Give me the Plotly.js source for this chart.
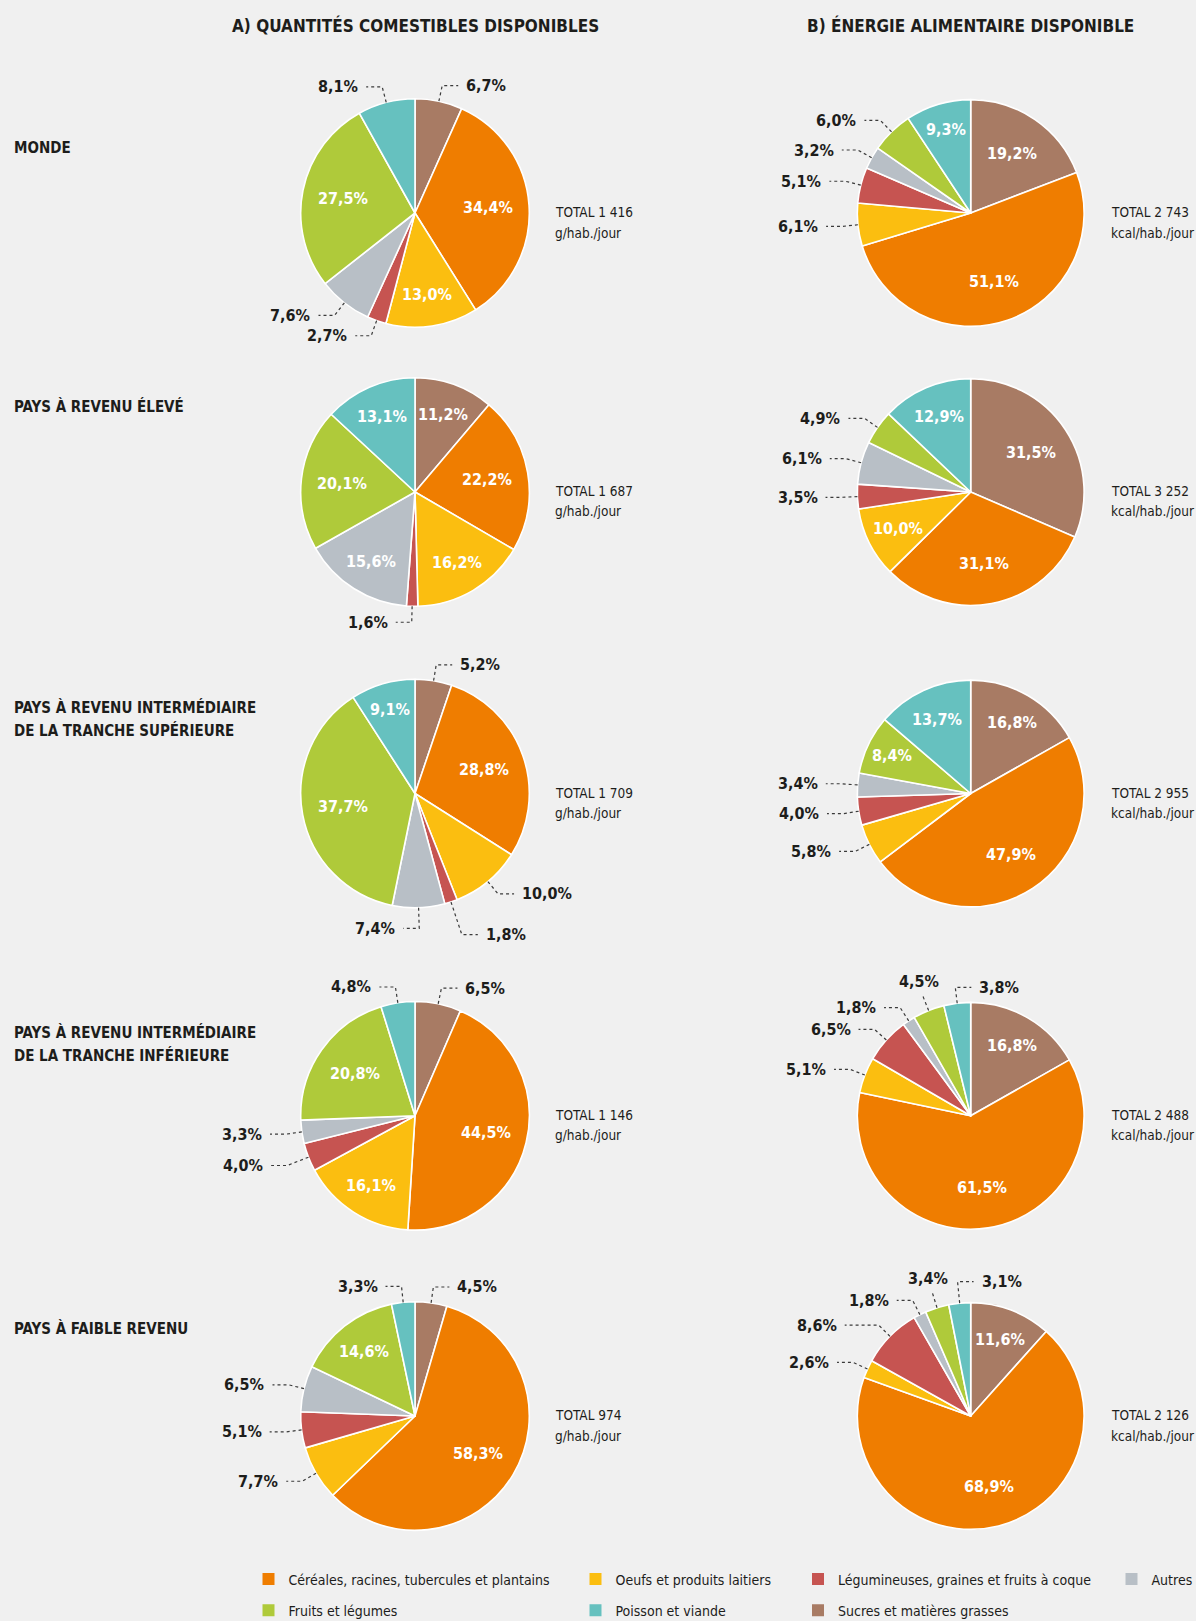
<!DOCTYPE html>
<html>
<head>
<meta charset="utf-8">
<script src="https://cdn.plot.ly/plotly-3.0.1.min.js"></script>
<style>
html,body{margin:0;padding:0;background:#f0f0f0;overflow:hidden;}
#chart{width:1196px;height:1621px;}
</style>
</head>
<body>
<div id="chart"></div>
<script>
// ---------------- DATA ----------------
const categories = [
  'Sucres et matières grasses',
  'Céréales, racines, tubercules et plantains',
  'Oeufs et produits laitiers',
  'Légumineuses, graines et fruits à coque',
  'Autres',
  'Fruits et légumes',
  'Poisson et viande'
];
const categoryColors = ['#a87b64', '#ef7d00', '#fbbe10', '#c65451', '#b8bfc6', '#afca3a', '#66c1bf'];

const columnTitles = ['A) QUANTITÉS COMESTIBLES DISPONIBLES', 'B) ÉNERGIE ALIMENTAIRE DISPONIBLE'];
const rowLabels = [
  'MONDE',
  'PAYS À REVENU ÉLEVÉ',
  'PAYS À REVENU INTERMÉDIAIRE<br>DE LA TRANCHE SUPÉRIEURE',
  'PAYS À REVENU INTERMÉDIAIRE<br>DE LA TRANCHE INFÉRIEURE',
  'PAYS À FAIBLE REVENU'
];
const units = ['g/hab./jour', 'kcal/hab./jour'];

// shares (%) in slice order (clockwise from 12 o'clock), same order as categories
const mondeQuantites   = [6.7, 34.4, 13.0, 2.7, 7.6, 27.5, 8.1];
const mondeEnergie     = [19.2, 51.1, 6.1, 5.1, 3.2, 6.0, 9.3];
const eleveQuantites   = [11.2, 22.2, 16.2, 1.6, 15.6, 20.1, 13.1];
const eleveEnergie     = [31.5, 31.1, 10.0, 3.5, 6.1, 4.9, 12.9];
const supQuantites     = [5.2, 28.8, 10.0, 1.8, 7.4, 37.7, 9.1];
const supEnergie       = [16.8, 47.9, 5.8, 4.0, 3.4, 8.4, 13.7];
const infQuantites     = [6.5, 44.5, 16.1, 4.0, 3.3, 20.8, 4.8];
const infEnergie       = [16.8, 61.5, 5.1, 6.5, 1.8, 4.5, 3.8];
const faibleQuantites  = [4.5, 58.3, 7.7, 5.1, 6.5, 14.6, 3.3];
const faibleEnergie    = [11.6, 68.9, 2.6, 8.6, 1.8, 3.4, 3.1];

const totalsQuantites = ['1 416', '1 687', '1 709', '1 146', '974'];
const totalsEnergie   = ['2 743', '3 252', '2 955', '2 488', '2 126'];

// ---------------- LAYOUT SETTINGS ----------------
const W = 1196, H = 1621;
const colCX = [415, 970.7];
const colR = [114.3, 113.4];
const rowCY = [213, 492, 793.5, 1115.8, 1416];
const rowLabelCY = [148, 407, 719, 1043.5, 1328];
const rowLineGap = 23;
const legendColumns = [[1, 5], [2, 6], [3, 0], [4]];
const legendLeft = [248.5, 575.5, 798, 1111.5];
const legendTop = 1563.5;
// which slice labels sit inside the pie
const insideIdx = [
  [[1, 2, 5], [0, 1, 6]],
  [[0, 1, 2, 4, 5, 6], [0, 1, 2, 6]],
  [[1, 5, 6], [0, 1, 5, 6]],
  [[1, 2, 5], [0, 1]],
  [[1, 5], [0, 1]]
];
const leaderOverrides = {
  '2-0-3': {rf: 1.3},
  '2-0-4': {side: 'L', rf: 1.18},
  '3-0-3': {rf: 1.2},
  '3-1-5': {side: 'U'},
  '3-1-6': {side: 'R'},
  '4-1-5': {side: 'U'},
  '4-1-6': {side: 'R', rf: 1.19},
  '4-1-3': {h: 34}
};

const FONT = "'Liberation Sans Narrow', 'DejaVu Sans Condensed', 'Arial Narrow', sans-serif";
const INK = '#1d1d1b';
const BG = '#f0f0f0';
const PCT_SIZE = 16;

// ---------------- BUILD ----------------
const quantites = [mondeQuantites, eleveQuantites, supQuantites, infQuantites, faibleQuantites];
const energie = [mondeEnergie, eleveEnergie, supEnergie, infEnergie, faibleEnergie];
const totals = [totalsQuantites, totalsEnergie];

const px = x => x / W;
const py = y => 1 - y / H;
const fmt = v => v.toFixed(1).replace('.', ',') + '%';

const traces = [];
const annotations = [];
const shapes = [];

function addText(text, x, y, xanchor, yanchor, font) {
  annotations.push({
    text: text, xref: 'paper', yref: 'paper', x: px(x), y: py(y),
    xanchor: xanchor, yanchor: yanchor, align: xanchor === 'right' ? 'right' : 'left',
    showarrow: false, font: font
  });
}

columnTitles.forEach((t, c) => {
  addText(t, colCX[c], 26, 'center', 'middle', {family: FONT, size: 17, weight: 700, color: INK});
});

rowLabels.forEach((t, r) => {
  const lines = t.split('<br>');
  lines.forEach((ln, k) => {
    const y = rowLabelCY[r] + (k - (lines.length - 1) / 2) * rowLineGap;
    addText(ln, 12, y, 'left', 'middle', {family: FONT, size: 15, weight: 700, color: INK});
  });
});

for (let r = 0; r < 5; r++) {
  for (let c = 0; c < 2; c++) {
    const vals = c === 0 ? quantites[r] : energie[r];
    const cx = colCX[c], cy = rowCY[r], R = colR[c];
    traces.push({
      type: 'pie', values: vals, labels: categories, sort: false,
      direction: 'clockwise', rotation: 0,
      marker: {colors: categoryColors, line: {color: '#ffffff', width: 1.6}},
      textinfo: 'none', hoverinfo: 'skip', showlegend: false,
      domain: {x: [px(cx - R), px(cx + R)], y: [py(cy + R), py(cy - R)]}
    });

    // total text (two lines)
    addText('TOTAL ' + totals[c][r], cx + 138, cy - 1, 'left', 'middle', {family: FONT, size: 13.5, color: INK});
    addText(units[c], cx + 138, cy + 19.5, 'left', 'middle', {family: FONT, size: 13.5, color: INK});

    const total = vals.reduce((a, b) => a + b, 0);
    let cum = 0;
    vals.forEach((v, i) => {
      const th = (cum + v / 2) / total * 2 * Math.PI;
      cum += v;
      const s = Math.sin(th), co = Math.cos(th);
      const pt = f => [cx + f * R * s, cy - f * R * co];
      if (insideIdx[r][c].indexOf(i) >= 0) {
        const f = v < 10 ? 0.77 : (v < 18 ? 0.72 : 0.64);
        const p = pt(f);
        addText(fmt(v), p[0], p[1], 'center', 'middle', {family: FONT, size: PCT_SIZE, weight: 700, color: '#ffffff'});
      } else {
        const o = leaderOverrides[r + '-' + c + '-' + i] || {};
        const side = o.side || (s < 0 ? 'L' : 'R');
        const rf = o.rf || 1.14;
        const p0 = pt(1.0), p1 = pt(rf);
        if (side === 'U') {
          shapes.push({
            type: 'path', xref: 'paper', yref: 'paper',
            path: 'M' + px(p0[0]) + ',' + py(p0[1]) + ' L' + px(p1[0]) + ',' + py(p1[1]),
            line: {color: '#3a3a3a', width: 1.2, dash: 'dot'}
          });
          addText(fmt(v), p1[0] - 4, p1[1] - 3, 'center', 'bottom', {family: FONT, size: PCT_SIZE, weight: 700, color: INK});
        } else {
          const dir = side === 'L' ? -1 : 1;
          const hl = o.h || 16;
          const p2 = [p1[0] + dir * hl, p1[1]];
          shapes.push({
            type: 'path', xref: 'paper', yref: 'paper',
            path: 'M' + px(p0[0]) + ',' + py(p0[1]) + ' L' + px(p1[0]) + ',' + py(p1[1]) +
                  ' L' + px(p2[0]) + ',' + py(p2[1]),
            line: {color: '#3a3a3a', width: 1.2, dash: 'dot'}
          });
          addText(fmt(v), p2[0] + dir * 6, p1[1], side === 'L' ? 'right' : 'left', 'middle',
                  {family: FONT, size: PCT_SIZE, weight: 700, color: INK});
        }
      }
    });
  }
}

// legend carriers (one legend per column of the key)
const layout = {
  width: W, height: H,
  margin: {l: 0, r: 0, t: 0, b: 0, pad: 0, autoexpand: false},
  paper_bgcolor: BG, plot_bgcolor: BG,
  xaxis: {visible: false}, yaxis: {visible: false},
  hovermode: false, showlegend: true,
  annotations: annotations, shapes: shapes
};
legendColumns.forEach((col, k) => {
  const lname = k === 0 ? 'legend' : 'legend' + (k + 1);
  layout[lname] = {
    x: px(legendLeft[k]), y: py(legendTop), xanchor: 'left', yanchor: 'top',
    orientation: 'v', bgcolor: 'rgba(0,0,0,0)', borderwidth: 0,
    traceorder: 'grouped', tracegroupgap: 10, itemclick: false, itemdoubleclick: false,
    font: {family: FONT, size: 14, color: INK}
  };
  col.forEach(i => {
    traces.push({
      type: 'scatter', x: [null], y: [null], mode: 'markers', name: categories[i],
      marker: {symbol: 'square', size: 12, color: categoryColors[i]},
      legend: lname, legendgroup: 'g' + i, showlegend: true, hoverinfo: 'skip'
    });
  });
});

Plotly.newPlot('chart', traces, layout, {displayModeBar: false, staticPlot: true});
</script>
</body>
</html>
